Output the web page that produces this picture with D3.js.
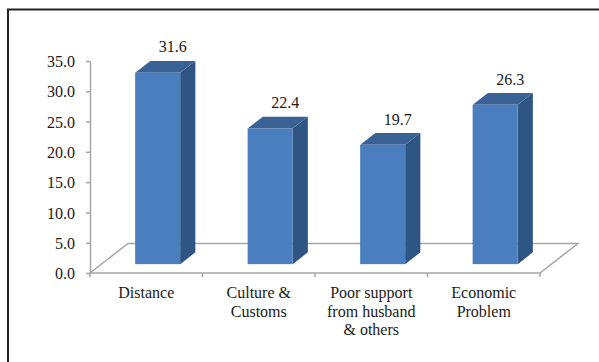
<!DOCTYPE html>
<html>
<head>
<meta charset="utf-8">
<script src="https://cdn.jsdelivr.net/npm/d3@7"></script>
<style>
  body { margin: 0; background: #fff; }
</style>
</head>
<body>
<div id="chart"></div>
<script>
// data
const categories = ["Distance", "Culture & Customs", "Poor support from husband & others", "Economic Problem"];
const categoryLines = [["Distance"], ["Culture &", "Customs"], ["Poor support", "from husband", "& others"], ["Economic", "Problem"]];
const values = [31.6, 22.4, 19.7, 26.3];
const yTicks = [0, 5, 10, 15, 20, 25, 30, 35];

const W = 599, H = 362;
const FONT = "'Liberation Serif'";
const depth = {dx: 38, dy: -29.5};   // floor depth of the 3D plot
const barDepth = [0.3, 0.7];          // bar sits between these depth fractions

const colors = {front: "#4a7ebf", side: "#2f5584", top: "#3a6294", floor: "#a6a6a6", text: "#1a1a1a"};

const svg = d3.select("#chart")
    .append("svg")
    .attr("width", W)
    .attr("height", H);

// outer frame (only top & left show in the crop)
svg.append("rect")
    .attr("x", 8).attr("y", 9.5)
    .attr("width", W + 20).attr("height", H + 20)
    .attr("fill", "none")
    .attr("stroke", "#222")
    .attr("stroke-width", 2);

var x = d3.scaleBand()
    .domain(categories)
    .range([90, 540])
    .padding(0);

var y = d3.scaleLinear()
    .domain([0, 35])
    .range([273, 61]);

// floor
var x0 = x.range()[0], x1 = x.range()[1], y0 = y(0);
svg.append("path")
    .attr("d", "M" + x0 + "," + y0 + "L" + (x0 + depth.dx) + "," + (y0 + depth.dy) +
               "L" + (x1 + depth.dx) + "," + (y0 + depth.dy) + "L" + x1 + "," + y0 + "Z")
    .attr("fill", "none")
    .attr("stroke", colors.floor)
    .attr("stroke-width", 1.5);

// y axis
var yAxis = svg.append("g")
    .attr("transform", "translate(" + x0 + ",0)")
    .call(d3.axisLeft(y).tickValues(yTicks).tickFormat(d3.format(".1f")).tickSize(4).tickPadding(11).tickSizeOuter(0));
yAxis.attr("font-family", null).attr("font-size", null);
yAxis.select(".domain").attr("stroke", colors.floor).attr("stroke-width", 1.5);
yAxis.selectAll(".tick line").attr("stroke", colors.floor).attr("stroke-width", 1.5);
yAxis.selectAll("text")
    .style("font-family", FONT)
    .style("font-size", "16px")
    .style("fill", colors.text)
    .attr("dy", "0.35em");

// x ticks at band edges
var edges = categories.map(c => x(c)).concat([x1]);
svg.selectAll("xTick")
    .data(edges)
    .enter().append("line")
    .attr("x1", d => d).attr("x2", d => d)
    .attr("y1", y0).attr("y2", y0 + 4)
    .attr("stroke", colors.floor)
    .attr("stroke-width", 1.5);

// bars
var bars = categories.map((c, i) => {
    var bw = x.bandwidth() * 0.4;
    var left = x(c) + (x.bandwidth() - bw) / 2;
    var fx = left + depth.dx * barDepth[0], fy = depth.dy * barDepth[0];
    var sx = depth.dx * (barDepth[1] - barDepth[0]), sy = depth.dy * (barDepth[1] - barDepth[0]);
    return {c: c, v: values[i], fx: fx, bw: bw, yb: y(0) + fy, yt: y(values[i]) + fy, sx: sx, sy: sy};
});

var g = svg.selectAll("bar").data(bars).enter().append("g");

g.append("path")   // side
    .attr("d", d => "M" + (d.fx + d.bw) + "," + d.yb + "L" + (d.fx + d.bw + d.sx) + "," + (d.yb + d.sy) +
                    "L" + (d.fx + d.bw + d.sx) + "," + (d.yt + d.sy) + "L" + (d.fx + d.bw) + "," + d.yt + "Z")
    .attr("fill", colors.side);

g.append("path")   // top
    .attr("d", d => "M" + d.fx + "," + d.yt + "L" + (d.fx + d.sx) + "," + (d.yt + d.sy) +
                    "L" + (d.fx + d.bw + d.sx) + "," + (d.yt + d.sy) + "L" + (d.fx + d.bw) + "," + d.yt + "Z")
    .attr("fill", colors.top);

g.append("rect")   // front
    .attr("x", d => d.fx)
    .attr("y", d => d.yt)
    .attr("width", d => d.bw)
    .attr("height", d => d.yb - d.yt)
    .attr("fill", colors.front);

// value labels
g.append("text")
    .attr("x", d => d.fx + d.sx + d.bw / 2)
    .attr("y", d => d.yt + d.sy - 8.5)
    .attr("text-anchor", "middle")
    .style("font-family", FONT)
    .style("font-size", "16px")
    .style("fill", colors.text)
    .text(d => d.v.toFixed(1));

// category labels
var lab = svg.selectAll("catLabel")
    .data(categories)
    .enter().append("text")
    .attr("text-anchor", "middle")
    .style("font-family", FONT)
    .style("font-size", "16px")
    .style("fill", colors.text)
    .attr("y", 298);
lab.selectAll("tspan")
    .data((d, i) => categoryLines[i].map(t => ({t: t, c: d})))
    .enter().append("tspan")
    .attr("x", d => x(d.c) + x.bandwidth() / 2)
    .attr("dy", (d, i) => i ? 18.5 : 0)
    .text(d => d.t);
</script>
</body>
</html>
